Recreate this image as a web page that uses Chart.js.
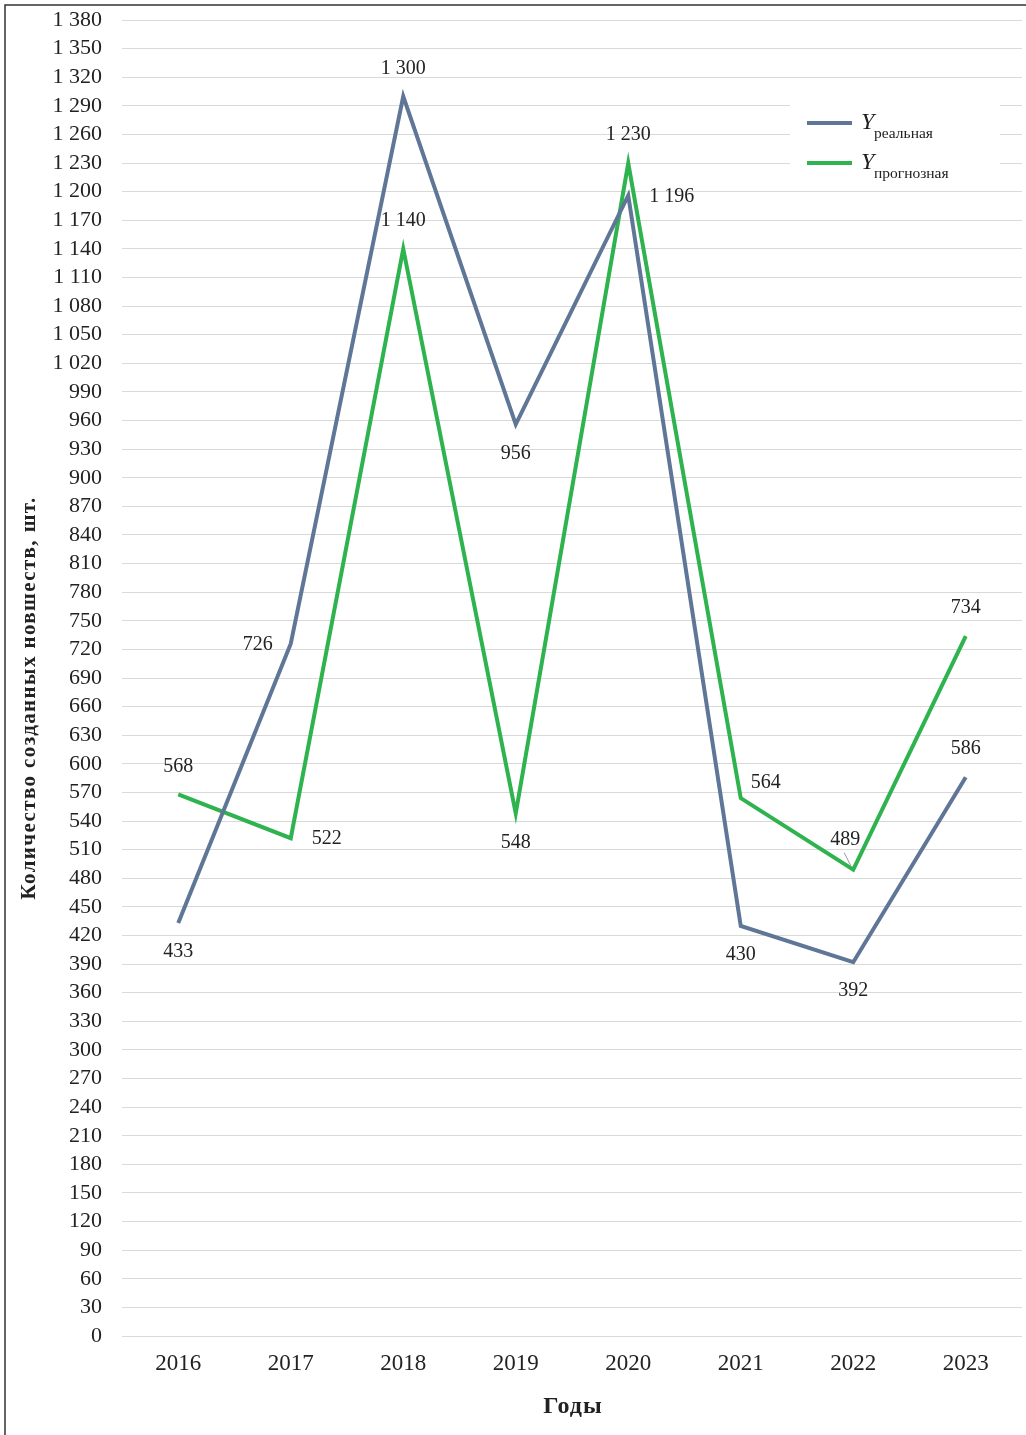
<!DOCTYPE html>
<html lang="ru">
<head>
<meta charset="utf-8">
<title>Количество созданных новшеств</title>
<script src="https://cdn.jsdelivr.net/npm/chart.js@4/dist/chart.umd.min.js"></script>
<style>
  html, body { margin: 0; padding: 0; background: #fff; }
  #wrap { position: relative; width: 1026px; height: 1435px; }
</style>
</head>
<body>
<div id="wrap"><canvas id="chart" width="1026" height="1435"></canvas></div>
<script>
// Years on the horizontal axis
const years = ['2016', '2017', '2018', '2019', '2020', '2021', '2022', '2023'];
// Actual number of innovations created
const realValues = [433, 726, 1300, 956, 1196, 430, 392, 586];
// Forecast number of innovations
const forecastValues = [568, 522, 1140, 548, 1230, 564, 489, 734];
// Where each value label sits relative to its point
const realLabelSide = ['below', 'left', 'above', 'below', 'right', 'below', 'below', 'above'];
const forecastLabelSide = ['above', 'right', 'above', 'below', 'above', 'upRight', 'upLeftLeader', 'above'];
// Vertical axis range and step
const yMin = 0;
const yMax = 1380;
const yStep = 30;
// Axis titles
const yTitle = 'Количество созданных новшеств, шт.';
const xTitle = 'Годы';

const SERIF = '"Liberation Serif", "Times New Roman", serif';
const REAL_COLOR = '#5f7697';
const FORECAST_COLOR = '#2eb34e';

function fmt(v) {
  return String(v).replace(/\B(?=(\d{3})+(?!\d))/g, ' ');
}

// Thin frame on the left and top edges of the figure
const framePlugin = {
  id: 'frame',
  afterDraw(chart) {
    const ctx = chart.ctx;
    ctx.save();
    ctx.strokeStyle = '#333';
    ctx.lineWidth = 1.5;
    ctx.beginPath();
    ctx.moveTo(5, 1435);
    ctx.lineTo(5, 5);
    ctx.lineTo(1026, 5);
    ctx.stroke();
    ctx.restore();
  }
};

// Axis titles, drawn with a little letter spacing
const axisTitlePlugin = {
  id: 'axisTitles',
  afterDraw(chart) {
    const ctx = chart.ctx;
    const area = chart.chartArea;
    ctx.save();
    ctx.fillStyle = '#222';
    ctx.textAlign = 'center';
    ctx.textBaseline = 'middle';
    if ('letterSpacing' in ctx) ctx.letterSpacing = '1.4px';
    ctx.font = 'bold 21px ' + SERIF;
    ctx.translate(30, 698);
    ctx.rotate(-Math.PI / 2);
    ctx.fillText(yTitle, 0, 0);
    ctx.setTransform(1, 0, 0, 1, 0, 0);
    if ('letterSpacing' in ctx) ctx.letterSpacing = '1px';
    ctx.font = 'bold 24px ' + SERIF;
    ctx.fillText(xTitle, (area.left + area.right) / 2 + 1, 1407);
    ctx.restore();
  }
};

// Value labels next to every point
const valueLabelPlugin = {
  id: 'valueLabels',
  afterDatasetsDraw(chart) {
    const ctx = chart.ctx;
    ctx.save();
    ctx.font = '20px ' + SERIF;
    ctx.fillStyle = '#222';
    ctx.textBaseline = 'middle';
    const sides = [realLabelSide, forecastLabelSide];
    chart.data.datasets.forEach((ds, di) => {
      const meta = chart.getDatasetMeta(di);
      meta.data.forEach((pt, i) => {
        const text = fmt(ds.data[i]);
        const side = sides[di][i];
        let x = pt.x, y = pt.y;
        ctx.textAlign = 'center';
        switch (side) {
          case 'above': y -= 28; break;
          case 'below': y += 29; break;
          case 'left': x -= 33; y += 1; break;
          case 'right': ctx.textAlign = 'left'; x += 21; y += 1; break;
          case 'upRight': ctx.textAlign = 'left'; x += 10; y -= 15; break;
          case 'upLeftLeader':
            x -= 8; y -= 30;
            ctx.strokeStyle = '#999';
            ctx.lineWidth = 1;
            ctx.beginPath();
            ctx.moveTo(pt.x - 9, pt.y - 17);
            ctx.lineTo(pt.x - 2, pt.y - 3);
            ctx.stroke();
            break;
        }
        ctx.fillText(text, x, y);
      });
    });
    ctx.restore();
  }
};

// Legend box with italic Y and subscripts
const legendPlugin = {
  id: 'subLegend',
  afterDraw(chart) {
    const ctx = chart.ctx;
    ctx.save();
    ctx.fillStyle = '#fff';
    ctx.fillRect(790, 100, 210, 88);
    const rows = [
      { color: REAL_COLOR, sub: 'реальная', y: 123 },
      { color: FORECAST_COLOR, sub: 'прогнозная', y: 163 }
    ];
    rows.forEach(r => {
      ctx.strokeStyle = r.color;
      ctx.lineWidth = 4;
      ctx.beginPath();
      ctx.moveTo(807, r.y);
      ctx.lineTo(852, r.y);
      ctx.stroke();
      ctx.fillStyle = '#222';
      ctx.textAlign = 'left';
      ctx.textBaseline = 'alphabetic';
      ctx.font = 'italic 24px ' + SERIF;
      ctx.fillText('Y', 861, r.y + 6);
      ctx.font = '15.5px ' + SERIF;
      ctx.fillText(r.sub, 874, r.y + 15);
    });
    ctx.restore();
  }
};

new Chart(document.getElementById('chart'), {
  type: 'line',
  data: {
    labels: years,
    datasets: [
      {
        label: 'Y реальная',
        data: realValues,
        borderColor: REAL_COLOR,
        backgroundColor: REAL_COLOR,
        borderWidth: 4,
        pointRadius: 0,
        tension: 0,
        fill: false
      },
      {
        label: 'Y прогнозная',
        data: forecastValues,
        borderColor: FORECAST_COLOR,
        backgroundColor: FORECAST_COLOR,
        borderWidth: 4,
        pointRadius: 0,
        tension: 0,
        fill: false
      }
    ]
  },
  options: {
    responsive: false,
    animation: false,
    layout: { padding: { left: 5, top: 20, right: 4, bottom: 0 } },
    plugins: {
      legend: { display: false },
      tooltip: { enabled: false }
    },
    scales: {
      x: {
        offset: true,
        grid: { display: false, drawTicks: false },
        border: { display: false },
        ticks: {
          color: '#222',
          font: { family: SERIF, size: 23 },
          padding: 14,
          maxRotation: 0
        },
        afterFit(scale) { scale.height = 99; }
      },
      y: {
        min: yMin,
        max: yMax,
        grid: { color: '#d9d9d9', lineWidth: 1, drawTicks: false },
        border: { display: false },
        ticks: {
          stepSize: yStep,
          autoSkip: false,
          color: '#222',
          font: { family: SERIF, size: 22 },
          padding: 20,
          callback: v => fmt(v)
        },
        afterFit(scale) {
          scale.width = 117;
          scale.paddingTop = 0;
          scale.paddingBottom = 0;
        }
      }
    }
  },
  plugins: [framePlugin, axisTitlePlugin, valueLabelPlugin, legendPlugin]
});
</script>
</body>
</html>
